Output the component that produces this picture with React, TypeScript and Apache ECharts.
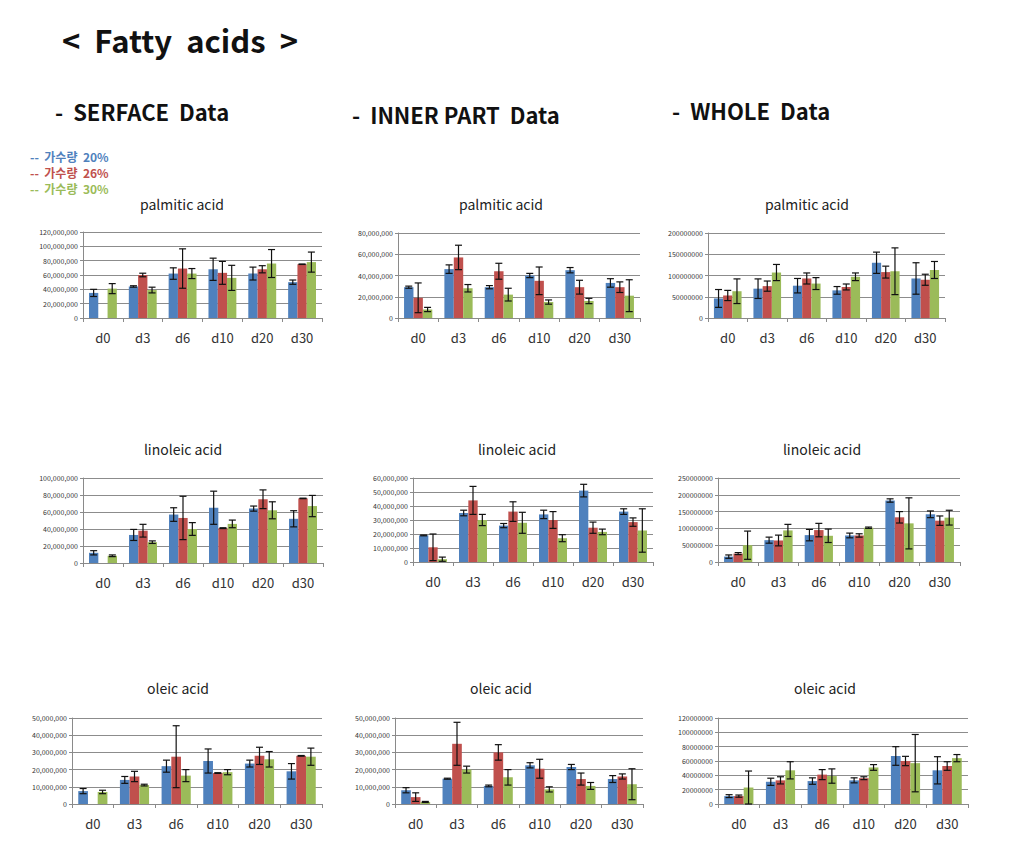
import React, { useEffect, useRef } from "react";
import * as echarts from "echarts";

const categories = ["d0", "d3", "d6", "d10", "d20", "d30"];
const seriesNames = ["가수량 20%", "가수량 26%", "가수량 30%"];
const seriesColors = ["#4F81BD", "#C0504D", "#9BBB59"];
const MILLION = 1e6;

// values in millions: [20%, 26%, 30%]
const surfacePalmiticMean = [[35, 44, 62, 68, 62, 50], [null, 60, 69, 63, 68, 75], [41, 39, 62, 56, 76, 78]];
const surfacePalmiticErr = [[5, 1, 8, 15.5, 9, 3], [0, 2.5, 27.5, 16, 5, 0.3], [7, 4, 7, 17.5, 19.5, 14]];
const innerPalmiticMean = [[29, 46, 29, 40, 45, 33], [19, 57, 44, 35, 29, 29], [8, 28, 22, 15, 16, 21]];
const innerPalmiticErr = [[1, 4, 1.5, 2, 2.5, 4], [14, 11.5, 7.5, 13, 6.5, 5], [2, 3.5, 6, 2, 2.5, 15]];
const wholePalmiticMean = [[46, 69, 76, 65, 130, 93], [53, 75, 93, 73, 108, 90], [63, 107, 81, 97, 110, 113]];
const wholePalmiticErr = [[21, 23, 17, 9, 25, 37], [12, 12, 13, 7, 14, 13], [29, 19, 14, 9, 55, 20]];

const surfaceLinoleicMean = [[12, 33, 57, 65, 64, 52], [null, 38, 53, 41, 75, 76], [8.5, 24.5, 40, 46, 62, 67]];
const surfaceLinoleicErr = [[2.5, 6.5, 8, 19.5, 3, 9.5], [0, 7.5, 25.5, 0.5, 11, 0.3], [1, 1.5, 7.5, 4.5, 10, 12.5]];
const innerLinoleicMean = [[19, 35, 26, 34, 51, 36], [10.5, 44, 36, 30, 24.5, 28.5], [2, 30, 28, 17, 21.5, 22.5]];
const innerLinoleicErr = [[0.3, 2, 1.5, 3, 4.5, 2], [9.5, 10, 7, 6, 4, 3], [1.5, 4, 7.5, 2.5, 2, 15.5]];
const wholeLinoleicMean = [[16, 65, 80, 79, 183, 142], [25, 64, 95, 79, 133, 123], [50, 94, 78, 102, 115, 132]];
const wholeLinoleicErr = [[5, 9, 17, 7, 5, 10], [3, 16, 20, 5, 17, 14], [42, 18, 20, 2, 76, 22]];

const surfaceOleicMean = [[7.5, 14, 22, 25, 23.5, 19], [null, 16, 27.5, 18, 28, 28], [7, 11, 16.5, 18.5, 26, 27.5]];
const surfaceOleicErr = [[1.5, 2, 3.5, 7, 2, 4.5], [0, 3, 18, 0.2, 5, 0.2], [1, 0.5, 3.5, 1.5, 4.5, 5]];
const innerOleicMean = [[8, 14.7, 10.5, 22.5, 21.5, 14.5], [4, 35, 30, 20.5, 14.5, 16], [1.2, 20, 15.5, 8.5, 10.5, 11.5]];
const innerOleicErr = [[1.5, 0.3, 0.5, 1.5, 1.5, 2], [2.5, 12.5, 4.5, 5.5, 3.5, 1.5], [0.3, 2, 4.5, 1.5, 2, 9]];
const wholeOleicMean = [[11, 31, 32, 33, 67, 47], [11, 33, 41, 36, 60, 53], [23, 47, 39, 51, 57, 64]];
const wholeOleicErr = [[2, 5, 4.5, 3.5, 13, 19], [1.5, 5, 7, 2, 6.5, 6], [23, 12, 10, 4, 40, 5]];

const panelTitles = ["palmitic acid", "linoleic acid", "oleic acid"];
const sectionTitles = ["-  SERFACE  Data", "-  INNER PART  Data", "-  WHOLE  Data"];
// y-axis max / interval (in millions)
const axisMax = [120, 80, 200, 100, 60, 250, 50, 50, 120];
const axisInterval = [20, 20, 50, 20, 10, 50, 10, 10, 20];

const FONT = '"Noto Sans CJK KR", "Noto Sans", sans-serif';
const GAP = 0.3;

const panels = [
  { mean: surfacePalmiticMean, err: surfacePalmiticErr, comma: true, title: 0, grid: { left: 83, top: 232, width: 239, height: 86 }, tx: 182, ty: 204 },
  { mean: innerPalmiticMean, err: innerPalmiticErr, comma: true, title: 0, grid: { left: 398, top: 233, width: 242, height: 85 }, tx: 501, ty: 204 },
  { mean: wholePalmiticMean, err: wholePalmiticErr, comma: false, title: 0, grid: { left: 708, top: 233, width: 237, height: 85 }, tx: 807, ty: 204 },
  { mean: surfaceLinoleicMean, err: surfaceLinoleicErr, comma: true, title: 1, grid: { left: 83, top: 478, width: 240, height: 85 }, tx: 183, ty: 449 },
  { mean: innerLinoleicMean, err: innerLinoleicErr, comma: true, title: 1, grid: { left: 413, top: 478, width: 240, height: 84 }, tx: 517, ty: 449 },
  { mean: wholeLinoleicMean, err: wholeLinoleicErr, comma: false, title: 1, grid: { left: 718, top: 478, width: 242, height: 84 }, tx: 822, ty: 449 },
  { mean: surfaceOleicMean, err: surfaceOleicErr, comma: true, title: 2, grid: { left: 72, top: 718, width: 250, height: 86 }, tx: 178, ty: 688 },
  { mean: innerOleicMean, err: innerOleicErr, comma: true, title: 2, grid: { left: 395, top: 718, width: 248, height: 86 }, tx: 501, ty: 688 },
  { mean: wholeOleicMean, err: wholeOleicErr, comma: false, title: 2, grid: { left: 718, top: 718, width: 250, height: 86 }, tx: 825, ty: 688 },
];

function buildOption() {
  const grid: any[] = [];
  const xAxis: any[] = [];
  const yAxis: any[] = [];
  const series: any[] = [];
  const graphic: any[] = [];

  panels.forEach((p, pi) => {
    grid.push({ ...p.grid, containLabel: false });
    xAxis.push({
      type: "category",
      gridIndex: pi,
      data: categories,
      axisLine: { show: true, lineStyle: { color: "#8a8a8a", width: 1 } },
      axisTick: { show: true, length: 4, lineStyle: { color: "#8a8a8a" } },
      axisLabel: { fontSize: 13, color: "#333", margin: 13, fontFamily: FONT },
    });
    yAxis.push({
      type: "value",
      gridIndex: pi,
      min: 0,
      max: axisMax[pi] * MILLION,
      interval: axisInterval[pi] * MILLION,
      axisLine: { show: true, lineStyle: { color: "#8a8a8a", width: 1 } },
      axisTick: { show: true, length: 3, lineStyle: { color: "#8a8a8a" } },
      splitLine: { show: true, lineStyle: { color: "#8c8c8c", width: 1 } },
      axisLabel: {
        fontSize: 7,
        color: "#333333",
        margin: 5,
        fontFamily: FONT,
        formatter: (v: number) => (p.comma ? Math.round(v).toLocaleString("en-US") : String(Math.round(v))),
      },
    });
    for (let k = 0; k < 3; k++) {
      series.push({
        type: "bar",
        name: seriesNames[k],
        xAxisIndex: pi,
        yAxisIndex: pi,
        barGap: "0%",
        barCategoryGap: GAP * 100 + "%",
        itemStyle: { color: seriesColors[k] },
        data: p.mean[k].map((v) => (v == null ? null : v * MILLION)),
      });
    }
    for (let k = 0; k < 3; k++) {
      const data: any[] = [];
      p.mean[k].forEach((v, i) => {
        if (v != null) data.push([i, v * MILLION, p.err[k][i] * MILLION]);
      });
      series.push({
        type: "custom",
        xAxisIndex: pi,
        yAxisIndex: pi,
        z: 10,
        encode: { x: 0, y: 1 },
        data,
        renderItem: (params: any, api: any) => {
          const v = api.value(1);
          const e = api.value(2);
          const band = api.size([1, 0])[0];
          const bw = (band * (1 - GAP)) / 3;
          const off = (k - 1) * bw;
          const top = api.coord([api.value(0), v + e]);
          const bot = api.coord([api.value(0), Math.max(v - e, 0)]);
          const x = top[0] + off;
          const cap = 3.5;
          const st = { stroke: "#111", lineWidth: 1.2 };
          return {
            type: "group",
            children: [
              { type: "line", shape: { x1: x, y1: top[1], x2: x, y2: bot[1] }, style: st },
              { type: "line", shape: { x1: x - cap, y1: top[1], x2: x + cap, y2: top[1] }, style: st },
              { type: "line", shape: { x1: x - cap, y1: bot[1], x2: x + cap, y2: bot[1] }, style: st },
            ],
          };
        },
      });
    }
    graphic.push({
      type: "text",
      x: p.tx,
      y: p.ty,
      style: { text: panelTitles[p.title], fontSize: 14, fill: "#222", fontFamily: FONT, textAlign: "center", textVerticalAlign: "middle" },
    });
  });

  graphic.push({
    type: "text",
    x: 62,
    y: 39,
    style: { text: "<  Fatty  acids  >", fontSize: 31, fontWeight: "bold", fill: "#111", fontFamily: FONT, textVerticalAlign: "middle" },
  });
  const secX = [55, 352, 672];
  const secY = [111, 114, 110];
  sectionTitles.forEach((t, i) => {
    graphic.push({
      type: "text",
      x: secX[i],
      y: secY[i],
      style: { text: t, fontSize: 22, fontWeight: "bold", fill: "#111", fontFamily: FONT, textVerticalAlign: "middle" },
    });
  });
  seriesNames.forEach((n, i) => {
    graphic.push({
      type: "text",
      x: 30,
      y: 156 + i * 16,
      style: { text: "--  " + n.replace(" ", "  "), fontSize: 12, fontWeight: "bold", fill: seriesColors[i], fontFamily: FONT, textVerticalAlign: "middle" },
    });
  });

  return {
    animation: false,
    backgroundColor: "#ffffff",
    grid,
    xAxis,
    yAxis,
    series,
    graphic,
  };
}

export default function App() {
  const ref = useRef<HTMLDivElement>(null);
  useEffect(() => {
    document.body.style.margin = "0";
    if (!ref.current) return;
    const chart = echarts.init(ref.current, null, { renderer: "svg" });
    chart.setOption(buildOption() as any);
    return () => chart.dispose();
  }, []);
  return <div ref={ref} style={{ width: 1036, height: 847 }} />;
}
